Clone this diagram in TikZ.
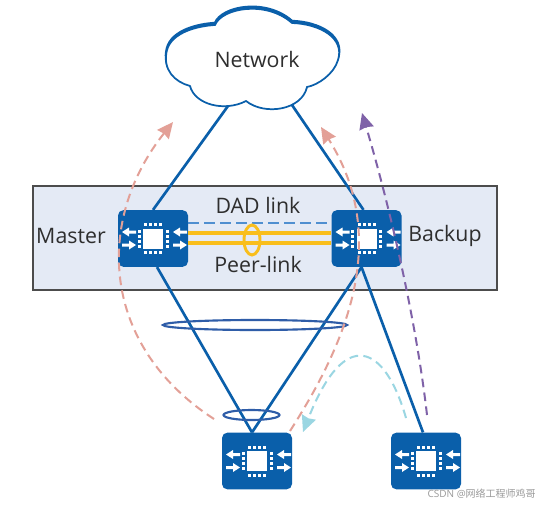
\documentclass[tikz,border=0pt]{standalone}
\usepackage{fontspec}
\setmainfont{Open Sans}
\newfontfamily\cjk{Noto Sans CJK SC}
\usetikzlibrary{arrows.meta, calc}
\definecolor{cblue}{HTML}{0A5FAA}
\definecolor{cband}{HTML}{E4EAF5}
\definecolor{cyellow}{HTML}{F9BE1C}
\definecolor{cdash}{HTML}{4F8FD0}
\definecolor{cring}{HTML}{2F5DA8}
\definecolor{cpink}{HTML}{E3A097}
\definecolor{cpurple}{HTML}{7F62A8}
\definecolor{ccyan}{HTML}{9AD6E2}
\definecolor{ctext}{HTML}{2E2E2E}
\tikzset{
  every picture/.style={font=\fontsize{16}{18}\selectfont, text=ctext},
  switch/.style={fill=cblue, rounded corners=4pt, minimum width=52.5pt, minimum height=42.5pt, inner sep=0pt},
  link/.style={draw=cblue, line width=2pt},
  ring/.style={draw=cring, line width=1.6pt},
  peer/.style={draw=cyellow, line width=2.7pt},
  flow/.style={dashed, dash pattern=on 6.5pt off 4pt, line width=1.5pt, draw=#1, -{Stealth[length=12pt, width=11pt, inset=1pt, fill=#1]}},
  tag/.style={inner sep=0pt},
  pics/chip/.style={code={
    \fill[white] (-10,-10) rectangle (10,10);
    \foreach \p in {-7.5,-2.5,2.5,7.5} {
      \fill[white] (\p-1.5,-15.5) rectangle (\p+1.5,-12.5);
      \fill[white] (\p-1.5,12.5) rectangle (\p+1.5,15.5);
      \fill[white] (-15.5,\p-1.5) rectangle (-12.5,\p+1.5);
      \fill[white] (12.5,\p-1.5) rectangle (15.5,\p+1.5);
    }
    \foreach \a in {-31,20} {
      \fill[white] (\a,-6.5) -- (\a+7,-11) -- (\a+7,-8) -- (\a+14,-8) -- (\a+14,-5) -- (\a+7,-5) -- (\a+7,-2) -- cycle;
      \fill[white] (\a+14,6.5) -- (\a+7,2) -- (\a+7,5) -- (\a,5) -- (\a,8) -- (\a+7,8) -- (\a+7,11) -- cycle;
    }
  }},
}
\newcommand{\cloudshape}{(215,25) .. controls (222,8) and (266,0) .. (292,23)
  .. controls (320,24) and (345,38) .. (338,60)
  .. controls (334,74) and (318,85) .. (307,87)
  .. controls (302,110) and (265,116) .. (246,101)
  .. controls (225,112) and (195,105) .. (190,86)
  .. controls (175,82) and (162,70) .. (167,50)
  .. controls (172,32) and (198,26) .. (215,25) -- cycle}

\begin{document}
\begin{tikzpicture}[x=0.75pt, y=-0.75pt]
  \useasboundingbox (0,0) rectangle (541,506);
  \fill[white] (0,0) rectangle (541,506);
  % ---- band ----
  \node[draw=black!70, fill=cband, line width=1.1pt, minimum width=348pt, minimum height=78pt, inner sep=0pt] (band) at (265,238) {};
  % ---- switches ----
  \node[switch] (master) at (153,238.5) {};
  \node[switch] (backup) at (366.5,238.5) {};
  \node[switch] (left) at (257,461) {};
  \node[switch] (right) at (426,461) {};
  \foreach \n in {master, backup, left, right} \pic at (\n) {chip};
  % ---- cloud ----
  \draw[cblue, fill=cblue, line width=1.8pt, yshift=1.5pt] \cloudshape;
  \draw[cblue, fill=white, line width=1.3pt] \cloudshape;
  \node[tag] (net) at (257,60) {Network};
  \coordinate (netl) at (228,106);
  \coordinate (netr) at (292,105);
  % ---- links ----
  \draw[link] (netl) -- (master.north);
  \draw[link] (netr) -- ($(backup.north)+(-3,0)$);
  \draw[link] ($(master.south)+(4,0)$) -- ($(left.north)+(-5,0)$);
  \draw[link] ($(backup.south)+(-5,0)$) -- ($(left.north)+(-5,0)$);
  \draw[link] ($(backup.south)+(-5,0)$) -- ($(right.north)+(-3,0)$);
  \draw[draw=cdash, line width=1.5pt, dashed, dash pattern=on 8pt off 4pt] ($(master.east)+(0,-16)$) -- ($(backup.west)+(0,-16)$);
  \draw[peer] ($(master.east)+(0,-5.5)$) -- ($(backup.west)+(0,-5.5)$);
  \draw[peer] ($(master.east)+(0,4.5)$) -- ($(backup.west)+(0,4.5)$);
  \draw[draw=cyellow, line width=2.2pt] (252,240) ellipse [x radius=8, y radius=15];
  \draw[ring] (255,325) ellipse [x radius=92, y radius=5];
  \draw[ring] (251.5,415) ellipse [x radius=28, y radius=5];
  % ---- labels ----
  \node[tag] (masterl) at (71,236) {Master};
  \node[tag] (backupl) at (445,236) {Backup};
  \node[tag] (dad) at (258,205) {DAD link};
  \node[tag] (peerl) at (258,264) {Peer-link};
  % ---- flows ----
  \coordinate (pa) at (214,419); \coordinate (pb) at (173,122);
  \coordinate (qa) at (290,431); \coordinate (qb) at (321,127);
  \coordinate (ra) at (427,415); \coordinate (rb) at (362,113);
  \coordinate (sa) at (406,418); \coordinate (sb) at (303,432);
  \draw[flow=cpink] (pa) .. controls (100,345) and (95,220) .. (pb);
  \draw[flow=cpink] (qa) .. controls (345,345) and (392,240) .. (qb);
  \draw[flow=cpurple] (ra) .. controls (415,310) and (385,190) .. (rb);
  \draw[flow=ccyan] (sa) .. controls (385,345) and (345,325) .. (sb);
  \node[tag, font=\fontsize{7.5}{9}\selectfont, text=black!40, anchor=east] (mark) at (536,494) {CSDN @{\cjk 网络工程师鸡哥}};
\end{tikzpicture}
\end{document}
